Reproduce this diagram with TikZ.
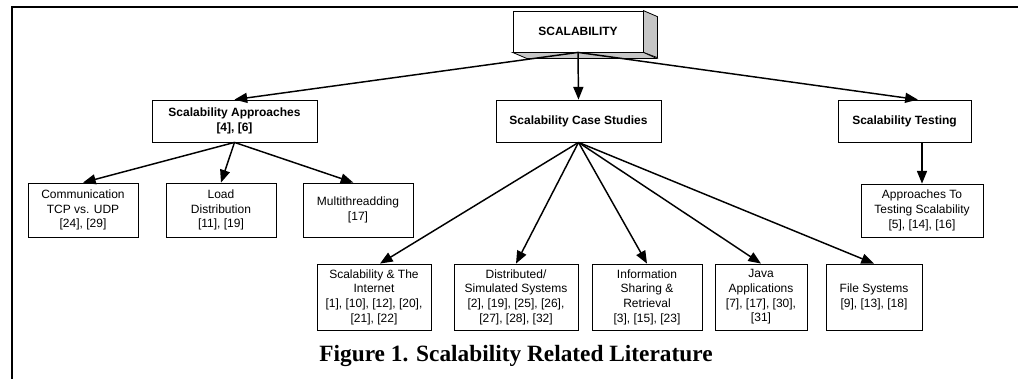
\documentclass[tikz,border=0pt]{standalone}
\usepackage{fontspec}
\setmainfont{Liberation Sans}
\newfontfamily\capfont{Liberation Serif}
\usetikzlibrary{arrows.meta}

\tikzset{every picture/.style={line width=0.75pt}}
\tikzset{
  topicbox/.style={draw, line width=0.6pt, inner sep=0pt, align=center, font=\fontsize{9}{11}\selectfont},
  headbox/.style={topicbox, minimum height=31.5pt, font=\bfseries\fontsize{9}{11}\selectfont},
  link/.style={line width=1.1pt, -{Triangle[length=9.5pt,width=7.5pt]}},
}

\begin{document}
\begin{tikzpicture}[x=0.75pt,y=0.75pt,yscale=-1,xscale=1]
\useasboundingbox (0,0) rectangle (1018,379);

%Frame
\draw [line width=1.8pt]    (1018,7) -- (12,7) -- (12,379) ;

%Shape: Cube
\node (root) [headbox, fill=white, minimum width=97.5pt, minimum height=30.75pt] at (578,31.5) {SCALABILITY};
\draw [fill=gray!45, line width=0.6pt]    (root.north east) -- ++(14,6) -- ++(0,41) -- (root.south east) -- cycle ;
\draw [fill=gray!45, line width=0.6pt]    (root.south west) -- ++(14,6) -- ++(130,0) -- (root.south east) -- cycle ;

%Shape: Rectangle (second row)
\node (appr) [headbox, minimum width=123.75pt] at (234.5,121) {Scalability Approaches\\{}[4], [6]};
\node (case) [headbox, minimum width=123.75pt] at (578.5,121) {Scalability Case Studies};
\node (test) [headbox, minimum width=99.75pt] at (904.5,121) {Scalability Testing};

%Shape: Rectangle (third row)
\node (comm) [topicbox, minimum width=82.5pt, minimum height=40.5pt] at (83,210) {Communication\\TCP vs. UDP\\{}[24], [29]};
\node (load) [topicbox, minimum width=82.5pt, minimum height=40.5pt] at (221,210) {Load\\Distribution\\{}[11], [19]};
\node (multi) [topicbox, minimum width=82.5pt, minimum height=40.5pt] at (358,210) {Multithreadding\\{}[17]};
\node (atest) [topicbox, minimum width=91.5pt, minimum height=39.75pt] at (922,210.5) {Approaches To\\Testing Scalability\\{}[5], [14], [16]};

%Shape: Rectangle (case studies)
\node (inet) [topicbox, minimum width=85.5pt, minimum height=49.5pt] at (374,297) {Scalability \& The\\Internet\\{}[1], [10], [12], [20],\\{}[21], [22]};
\node (dist) [topicbox, minimum width=93pt, minimum height=49.5pt] at (516,297) {Distributed/\\Simulated Systems\\{}[2], [19], [25], [26],\\{}[27], [28], [32]};
\node (info) [topicbox, minimum width=82.5pt, minimum height=49.5pt] at (647,297) {Information\\Sharing \&\\Retrieval\\{}[3], [15], [23]};
\node (java) [topicbox, minimum width=69pt, minimum height=49.5pt] at (761,297) {Java\\Applications\\{}[7], [17], [30],\\{}[31]};
\node (file) [topicbox, minimum width=72pt, minimum height=49.5pt] at (874,297) {File Systems\\{}[9], [13], [18]};

%Straight Lines
\draw [link]    (root.south) -- (appr.north) ;
\draw [link]    (root.south) -- ([xshift=10pt]test.north) ;
\draw [link]    (root.south) -- (case.north) ;

\draw [link]    (appr.south) -- (comm.north) ;
\draw [link]    (appr.south) -- (load.north) ;
\draw [link]    (appr.south) -- ([xshift=-3.5pt]multi.north) ;

\draw [link]    (case.south) -- ([xshift=4.5pt]inet.north) ;
\draw [link]    (case.south) -- (dist.north) ;
\draw [link]    (case.south) -- (info.north) ;
\draw [link]    (case.south) -- (java.north) ;
\draw [link]    (case.south) -- (file.north) ;

\draw [link]    (test.south -| atest.north) -- (atest.north) ;

% Text Node
\node (caption) [anchor=base, inner sep=0pt, font=\capfont\bfseries\fontsize{17.5}{20}\selectfont] at (516,361) {Figure 1. Scalability Related Literature};

\end{tikzpicture}
\end{document}
